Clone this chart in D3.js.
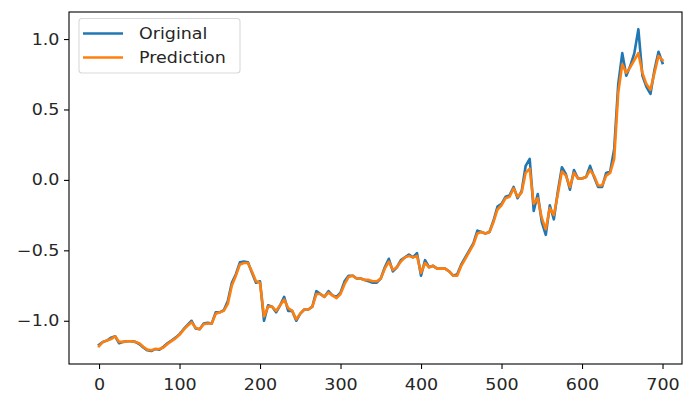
<!DOCTYPE html>
<html>
<head>
<meta charset="utf-8">
<script src="https://cdn.jsdelivr.net/npm/d3@7"></script>
<style>
  html, body { margin: 0; padding: 0; background: #fff; }
  svg { display: block; }
  text { font-family: "DejaVu Sans", sans-serif; fill: #262626; }
</style>
</head>
<body>
<svg id="chart" width="683" height="393"></svg>
<script>
// Sample index (every 5 steps) and the two series
const steps = d3.range(0, 701, 5);

const original = [
  -1.17, -1.15, -1.14, -1.12, -1.11, -1.16, -1.15, -1.145, -1.145, -1.15,
  -1.165, -1.19, -1.21, -1.215, -1.20, -1.205, -1.185, -1.16, -1.14, -1.12,
  -1.095, -1.06, -1.03, -1.00, -1.055, -1.06, -1.02, -1.015, -1.02, -0.94,
  -0.94, -0.925, -0.86, -0.73, -0.67, -0.585, -0.58, -0.585, -0.66, -0.73,
  -0.72, -1.00, -0.89, -0.90, -0.94, -0.89, -0.83, -0.93, -0.93, -1.00,
  -0.95, -0.92, -0.92, -0.90, -0.79, -0.81, -0.83, -0.79, -0.82, -0.83,
  -0.80, -0.72, -0.68, -0.68, -0.70, -0.70, -0.71, -0.72, -0.73, -0.73,
  -0.70, -0.62, -0.56, -0.65, -0.62, -0.57, -0.55, -0.53, -0.55, -0.52,
  -0.68, -0.57, -0.62, -0.61, -0.63, -0.63, -0.63, -0.65, -0.68, -0.67,
  -0.60, -0.55, -0.50, -0.45, -0.36, -0.37, -0.38, -0.37, -0.29, -0.19,
  -0.17, -0.12, -0.11, -0.05, -0.13, -0.08, 0.10, 0.15, -0.22, -0.10,
  -0.30, -0.39, -0.18, -0.28, -0.08, 0.09, 0.04, -0.07, 0.07, 0.01,
  0.01, 0.02, 0.10, 0.02, -0.05, -0.05, 0.05, 0.06, 0.22, 0.68,
  0.90, 0.74, 0.81, 0.90, 1.07, 0.74, 0.66, 0.61, 0.78, 0.91,
  0.83
];

const prediction = [
  -1.18, -1.15, -1.14, -1.13, -1.11, -1.15, -1.15, -1.145, -1.145, -1.15,
  -1.16, -1.185, -1.205, -1.21, -1.20, -1.20, -1.19, -1.165, -1.145, -1.125,
  -1.10, -1.065, -1.035, -1.01, -1.05, -1.06, -1.025, -1.02, -1.02, -0.95,
  -0.94, -0.93, -0.88, -0.75, -0.68, -0.60, -0.59, -0.59, -0.65, -0.72,
  -0.73, -0.97, -0.90, -0.90, -0.93, -0.89, -0.85, -0.91, -0.93, -0.99,
  -0.95, -0.92, -0.92, -0.90, -0.81, -0.81, -0.83, -0.80, -0.82, -0.84,
  -0.81, -0.74, -0.69, -0.68, -0.70, -0.70, -0.71, -0.71, -0.72, -0.72,
  -0.70, -0.63, -0.58, -0.64, -0.62, -0.58, -0.55, -0.54, -0.55, -0.54,
  -0.66, -0.59, -0.62, -0.61, -0.63, -0.63, -0.63, -0.65, -0.68, -0.68,
  -0.61, -0.56, -0.51, -0.46, -0.38, -0.37, -0.38, -0.37, -0.30, -0.21,
  -0.18, -0.13, -0.12, -0.06, -0.12, -0.09, 0.05, 0.08, -0.17, -0.13,
  -0.27, -0.35, -0.20, -0.25, -0.10, 0.06, 0.03, -0.05, 0.05, 0.01,
  0.01, 0.02, 0.07, 0.03, -0.04, -0.04, 0.03, 0.05, 0.15, 0.62,
  0.82, 0.76, 0.80, 0.85, 0.90, 0.76, 0.68, 0.64, 0.76, 0.88,
  0.85
];

const xTicks = [0, 100, 200, 300, 400, 500, 600, 700];
const yTicks = [-1.0, -0.5, 0.0, 0.5, 1.0];
const seriesNames = ["Original", "Prediction"];
const seriesColors = ["#1f77b4", "#ff7f0e"];

const svg = d3.select("#chart");
const plot = { left: 69, right: 682, top: 12, bottom: 364 };
const fontSize = 15.5;
const stretch = 1.13; // glyphs are drawn slightly wider than tall

const x = d3.scaleLinear().domain([-37.3, 724.2]).range([plot.left, plot.right]);
const y = d3.scaleLinear().domain([-1.307, 1.192]).range([plot.bottom, plot.top]);

const fmtY = v => d3.format(".1f")(v).replace("-", "\u2212");

// Axes
const xAxis = d3.axisBottom(x).tickValues(xTicks).tickSize(5).tickPadding(10).tickFormat(d3.format("d"));
const yAxis = d3.axisLeft(y).tickValues(yTicks).tickSize(5).tickPadding(4.5).tickFormat(fmtY);

const gx = svg.append("g").attr("transform", `translate(0,${plot.bottom})`).call(xAxis);
const gy = svg.append("g").attr("transform", `translate(${plot.left},0)`).call(yAxis);
[gx, gy].forEach(g => {
  g.select(".domain").remove();
  g.selectAll(".tick line").attr("stroke", "#000").attr("stroke-width", 1.1);
  g.selectAll(".tick text")
    .attr("font-size", fontSize).attr("fill", "#262626")
    .style("font-family", "'DejaVu Sans', sans-serif")
    .each(function () {
      const t = d3.select(this);
      const tx = +t.attr("x") || 0;
      t.attr("x", tx / stretch).attr("transform", `scale(${stretch},1)`);
    });
});

// Lines
const data = [original, prediction];
const line = d3.line()
  .x((d, i) => x(steps[i]))
  .y(d => y(d));

svg.append("clipPath").attr("id", "plotclip").append("rect")
  .attr("x", plot.left).attr("y", plot.top)
  .attr("width", plot.right - plot.left).attr("height", plot.bottom - plot.top);

svg.append("g").attr("clip-path", "url(#plotclip)")
  .selectAll("path.series")
  .data(data)
  .join("path")
  .attr("class", "series")
  .attr("fill", "none")
  .attr("stroke", (d, i) => seriesColors[i])
  .attr("stroke-width", 2.6)
  .attr("stroke-linejoin", "round")
  .attr("stroke-linecap", "square")
  .attr("d", line);

// Frame
svg.append("rect")
  .attr("x", plot.left).attr("y", plot.top)
  .attr("width", plot.right - plot.left).attr("height", plot.bottom - plot.top)
  .attr("fill", "none").attr("stroke", "#000").attr("stroke-width", 1.1);

// Legend
const legend = svg.append("g");
legend.append("rect")
  .attr("x", 79).attr("y", 18.5).attr("width", 161).attr("height", 54.5)
  .attr("rx", 3).attr("ry", 3)
  .attr("fill", "#fff").attr("fill-opacity", 0.8)
  .attr("stroke", "#d9d9d9").attr("stroke-width", 1.1);

const items = legend.selectAll("g.item")
  .data(seriesNames)
  .join("g")
  .attr("class", "item")
  .attr("transform", (d, i) => `translate(0,${33.5 + i * 24})`);

items.append("line")
  .attr("x1", 83).attr("x2", 123).attr("y1", 0).attr("y2", 0)
  .attr("stroke", (d, i) => seriesColors[i]).attr("stroke-width", 2.6);

items.append("text")
  .attr("transform", `translate(139,0) scale(${stretch},1)`)
  .attr("dy", "0.36em")
  .attr("font-size", fontSize)
  .text(d => d);
</script>
</body>
</html>
